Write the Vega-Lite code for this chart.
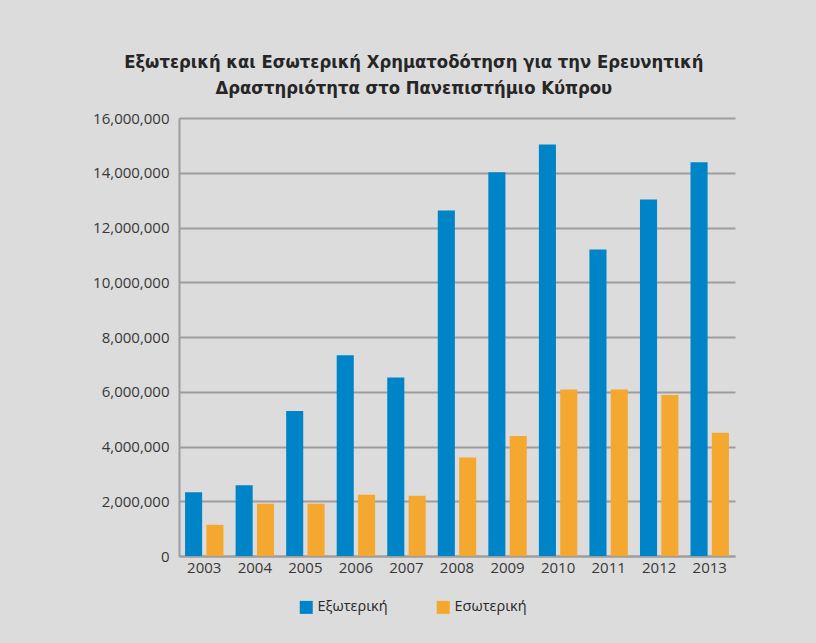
{
  "$schema": "https://vega.github.io/schema/vega-lite/v6.json",
  "width": 556,
  "height": 438,
  "autosize": {"type": "none"},
  "padding": {"left": 179, "top": 118, "right": 81, "bottom": 87},
  "background": "#dcdcdd",
  "title": {
    "text": ["Εξωτερική και Εσωτερική Χρηματοδότηση για την Ερευνητική", "Δραστηριότητα στο Πανεπιστήμιο Κύπρου"],
    "font": "DejaVu Sans Condensed",
    "fontWeight": "bold",
    "fontSize": 18.3,
    "color": "#262626",
    "lineHeight": 26,
    "offset": 13,
    "anchor": "middle",
    "frame": "bounds"
  },
  "data": {
    "values": [
      {"year": "2003", "type": "Εξωτερική", "value": 2330000},
      {"year": "2003", "type": "Εσωτερική", "value": 1140000},
      {"year": "2004", "type": "Εξωτερική", "value": 2580000},
      {"year": "2004", "type": "Εσωτερική", "value": 1910000},
      {"year": "2005", "type": "Εξωτερική", "value": 5300000},
      {"year": "2005", "type": "Εσωτερική", "value": 1910000},
      {"year": "2006", "type": "Εξωτερική", "value": 7330000},
      {"year": "2006", "type": "Εσωτερική", "value": 2240000},
      {"year": "2007", "type": "Εξωτερική", "value": 6520000},
      {"year": "2007", "type": "Εσωτερική", "value": 2200000},
      {"year": "2008", "type": "Εξωτερική", "value": 12620000},
      {"year": "2008", "type": "Εσωτερική", "value": 3600000},
      {"year": "2009", "type": "Εξωτερική", "value": 14020000},
      {"year": "2009", "type": "Εσωτερική", "value": 4380000},
      {"year": "2010", "type": "Εξωτερική", "value": 15030000},
      {"year": "2010", "type": "Εσωτερική", "value": 6080000},
      {"year": "2011", "type": "Εξωτερική", "value": 11200000},
      {"year": "2011", "type": "Εσωτερική", "value": 6080000},
      {"year": "2012", "type": "Εξωτερική", "value": 13020000},
      {"year": "2012", "type": "Εσωτερική", "value": 5880000},
      {"year": "2013", "type": "Εξωτερική", "value": 14380000},
      {"year": "2013", "type": "Εσωτερική", "value": 4500000}
    ]
  },
  "mark": {"type": "bar"},
  "encoding": {
    "x": {
      "field": "year",
      "type": "nominal",
      "scale": {"paddingInner": 0.24, "paddingOuter": 0.12},
      "axis": {
        "title": null,
        "labelAngle": 0,
        "ticks": false,
        "domain": true,
        "domainColor": "#9d9d9d",
        "domainWidth": 2,
        "labelPadding": 4,
        "labelFont": "Open Sans",
        "labelFontSize": 15,
        "labelColor": "#383838",
        "grid": false
      }
    },
    "xOffset": {
      "field": "type",
      "type": "nominal",
      "sort": ["Εξωτερική", "Εσωτερική"],
      "scale": {"paddingInner": 0.2}
    },
    "y": {
      "field": "value",
      "type": "quantitative",
      "scale": {"domain": [0, 16000000], "nice": false},
      "axis": {
        "title": null,
        "values": [0, 2000000, 4000000, 6000000, 8000000, 10000000, 12000000, 14000000, 16000000],
        "format": ",d",
        "ticks": false,
        "domain": true,
        "domainColor": "#9d9d9d",
        "domainWidth": 2,
        "grid": true,
        "gridColor": "#9d9d9d",
        "gridWidth": 2,
        "gridOpacity": 1,
        "labelPadding": 10,
        "labelFont": "Open Sans",
        "labelFontSize": 15,
        "labelColor": "#383838"
      }
    },
    "color": {
      "field": "type",
      "type": "nominal",
      "sort": ["Εξωτερική", "Εσωτερική"],
      "scale": {"domain": ["Εξωτερική", "Εσωτερική"], "range": ["#0084c8", "#f4a830"]},
      "legend": {
        "title": null,
        "orient": "none",
        "direction": "horizontal",
        "legendX": 120,
        "legendY": 482,
        "symbolType": "square",
        "symbolSize": 169,
        "symbolStrokeWidth": 0,
        "symbolOpacity": 1,
        "labelFont": "Open Sans",
        "labelFontSize": 14.5,
        "labelColor": "#262626",
        "labelOffset": 4,
        "columnPadding": 48
      }
    }
  },
  "config": {
    "view": {"stroke": null}
  }
}
